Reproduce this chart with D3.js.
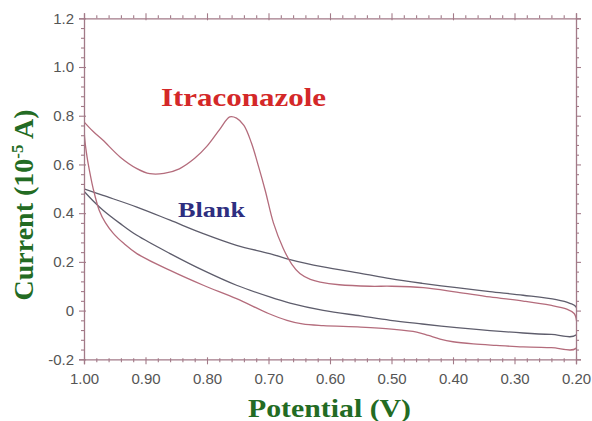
<!DOCTYPE html>
<html>
<head>
<meta charset="utf-8">
<script src="https://cdnjs.cloudflare.com/ajax/libs/d3/7.8.5/d3.min.js"></script>
<style>
  body { margin: 0; background: #fff; }
  svg { display: block; }
</style>
</head>
<body>
<div id="chart"></div>
<script>
// data (potential in V, current in 10^-5 A)
const itraPotential = [1.00, 0.985, 0.969, 0.941, 0.914, 0.893, 0.87, 0.845, 0.82, 0.80, 0.779, 0.763, 0.752, 0.74, 0.728, 0.716, 0.705, 0.692, 0.676, 0.662, 0.649, 0.632, 0.616, 0.585, 0.535, 0.50, 0.448, 0.394, 0.34, 0.286, 0.242, 0.215, 0.203, 0.20,
  0.20, 0.24, 0.286, 0.33, 0.367, 0.40, 0.421, 0.44, 0.459, 0.50, 0.55, 0.611, 0.645, 0.67, 0.70, 0.752, 0.806, 0.86, 0.914, 0.935, 0.952, 0.965, 0.975, 0.985, 0.99, 0.995, 0.999, 1.00];
const itraCurrent = [0.775, 0.735, 0.699, 0.63, 0.583, 0.562, 0.563, 0.582, 0.625, 0.675, 0.745, 0.795, 0.79, 0.76, 0.69, 0.59, 0.49, 0.36, 0.255, 0.19, 0.152, 0.128, 0.117, 0.106, 0.100, 0.100, 0.094, 0.076, 0.056, 0.039, 0.022, 0.006, -0.012, -0.03,
  -0.155, -0.152, -0.149, -0.143, -0.137, -0.128, -0.117, -0.102, -0.088, -0.076, -0.068, -0.062, -0.055, -0.04, -0.012, 0.049, 0.104, 0.165, 0.234, 0.275, 0.316, 0.36, 0.41, 0.50, 0.56, 0.63, 0.71, 0.775];

const blankPotential = [1.00, 0.969, 0.914, 0.86, 0.806, 0.752, 0.698, 0.665, 0.611, 0.55, 0.502, 0.45, 0.394, 0.34, 0.286, 0.232, 0.21, 0.20,
  0.20, 0.24, 0.286, 0.34, 0.394, 0.45, 0.502, 0.55, 0.611, 0.665, 0.698, 0.752, 0.806, 0.86, 0.914, 0.941, 0.969, 0.985, 1.00];
const blankCurrent = [0.50, 0.473, 0.425, 0.371, 0.316, 0.268, 0.234, 0.209, 0.179, 0.153, 0.131, 0.112, 0.094, 0.078, 0.063, 0.045, 0.03, 0.015,
  -0.10, -0.098, -0.092, -0.082, -0.07, -0.055, -0.04, -0.022, 0.001, 0.031, 0.056, 0.104, 0.165, 0.234, 0.309, 0.357, 0.412, 0.45, 0.49];

const xTicks = [1.0, 0.9, 0.8, 0.7, 0.6, 0.5, 0.4, 0.3, 0.2];
const xTickLabels = ['1.00', '0.90', '0.80', '0.70', '0.60', '0.50', '0.40', '0.30', '0.20'];
const yTicks = [1.2, 1.0, 0.8, 0.6, 0.4, 0.2, 0, -0.2];
const yTickLabels = ['1.2', '1.0', '0.8', '0.6', '0.4', '0.2', '0', '-0.2'];

const width = 592, height = 421;
const axisColor = '#a27a88';

const svg = d3.select('#chart').append('svg')
  .attr('width', width)
  .attr('height', height);

const x = d3.scaleLinear().domain([1.0, 0.2]).range([84, 576]);
const y = d3.scaleLinear().domain([-0.2, 1.2]).range([359.3, 18.3]);

// keep the curves inside the frame
svg.append('clipPath').attr('id', 'plot-clip')
  .append('rect')
  .attr('x', x(1.0)).attr('y', y(1.2))
  .attr('width', x(0.2) - x(1.0)).attr('height', y(-0.2) - y(1.2));

// minor tick positions every 0.02 V / 0.04 uA
const xMinor = d3.range(0.2, 1.0001, 0.02).filter(v => Math.abs(v * 10 - Math.round(v * 10)) > 0.01);
const yMinor = d3.range(-0.2, 1.2001, 0.04).filter(v => Math.abs(v * 5 - Math.round(v * 5)) > 0.01);

function styleAxis(g) {
  g.select('.domain').attr('stroke', axisColor).attr('stroke-width', 1.3);
  g.selectAll('.tick line').attr('stroke', axisColor).attr('stroke-width', 1.1);
  g.selectAll('.tick text')
    .attr('fill', '#555')
    .style('font-family', '"Liberation Sans", Arial, sans-serif')
    .style('font-size', '15px');
}

// curves
const line = d3.line()
  .x(d => x(d[0]))
  .y(d => y(d[1]))
  .curve(d3.curveCatmullRom.alpha(0.5));

const curves = svg.append('g').attr('clip-path', 'url(#plot-clip)');

curves.append('path')
  .datum(blankPotential.map((p, i) => [p, blankCurrent[i]]))
  .attr('d', line)
  .attr('fill', 'none')
  .attr('stroke', '#5e5d6c')
  .attr('stroke-width', 1.3);

curves.append('path')
  .datum(itraPotential.map((p, i) => [p, itraCurrent[i]]))
  .attr('d', line)
  .attr('fill', 'none')
  .attr('stroke', '#b46c7c')
  .attr('stroke-width', 1.3);

// bottom
const gB = svg.append('g').attr('transform', `translate(0,${y(-0.2)})`)
  .call(d3.axisBottom(x).tickValues(xTicks).tickSize(5).tickFormat((d, i) => xTickLabels[i]));
styleAxis(gB);
gB.selectAll('.tick line').attr('y1', -2);
gB.selectAll('.tick text').attr('y', 14);
const gBm = svg.append('g').attr('transform', `translate(0,${y(-0.2)})`)
  .call(d3.axisBottom(x).tickValues(xMinor).tickSize(3).tickFormat(''));
styleAxis(gBm);
gBm.select('.domain').remove();
gBm.selectAll('.tick line').attr('y1', -1);

// top
const gT = svg.append('g').attr('transform', `translate(0,${y(1.2)})`)
  .call(d3.axisTop(x).tickValues(xTicks).tickSize(5).tickFormat(''));
styleAxis(gT);
gT.selectAll('.tick line').attr('y1', 2);
const gTm = svg.append('g').attr('transform', `translate(0,${y(1.2)})`)
  .call(d3.axisTop(x).tickValues(xMinor).tickSize(3).tickFormat(''));
styleAxis(gTm);
gTm.select('.domain').remove();

// left
const gL = svg.append('g').attr('transform', `translate(${x(1.0)},0)`)
  .call(d3.axisLeft(y).tickValues(yTicks).tickSize(5).tickPadding(5).tickFormat((d, i) => yTickLabels[i]));
styleAxis(gL);
gL.selectAll('.tick line').attr('x1', 2);
const gLm = svg.append('g').attr('transform', `translate(${x(1.0)},0)`)
  .call(d3.axisLeft(y).tickValues(yMinor).tickSize(3).tickFormat(''));
styleAxis(gLm);
gLm.select('.domain').remove();
gLm.selectAll('.tick line').attr('x1', 1);

// right
const gR = svg.append('g').attr('transform', `translate(${x(0.2)},0)`)
  .call(d3.axisRight(y).tickValues(yTicks).tickSize(5).tickFormat(''));
styleAxis(gR);
const gRm = svg.append('g').attr('transform', `translate(${x(0.2)},0)`)
  .call(d3.axisRight(y).tickValues(yMinor).tickSize(3).tickFormat(''));
styleAxis(gRm);
gRm.select('.domain').remove();

// labels
const serif = '"Liberation Serif", "Times New Roman", serif';

svg.append('text')
  .attr('x', 161).attr('y', 106)
  .attr('textLength', 165).attr('lengthAdjust', 'spacingAndGlyphs')
  .style('font-family', serif).style('font-weight', 'bold').style('font-size', '25px')
  .attr('fill', '#d42828')
  .text('Itraconazole');

svg.append('text')
  .attr('x', 178).attr('y', 217)
  .attr('textLength', 67).attr('lengthAdjust', 'spacingAndGlyphs')
  .style('font-family', serif).style('font-weight', 'bold').style('font-size', '21px')
  .attr('fill', '#2e2e80')
  .text('Blank');

svg.append('text')
  .attr('x', 248).attr('y', 417)
  .attr('textLength', 163).attr('lengthAdjust', 'spacingAndGlyphs')
  .style('font-family', serif).style('font-weight', 'bold').style('font-size', '25px')
  .attr('fill', '#236b23')
  .text('Potential (V)');

const yTitle = svg.append('text')
  .attr('transform', 'translate(33,205) rotate(-90)')
  .attr('text-anchor', 'middle')
  .style('font-family', serif).style('font-weight', 'bold').style('font-size', '28px')
  .attr('fill', '#236b23');
yTitle.append('tspan').text('Current (10');
yTitle.append('tspan').attr('dy', -10).style('font-size', '17px').text('-5');
yTitle.append('tspan').attr('dy', 10).text(' A)');
</script>
</body>
</html>
